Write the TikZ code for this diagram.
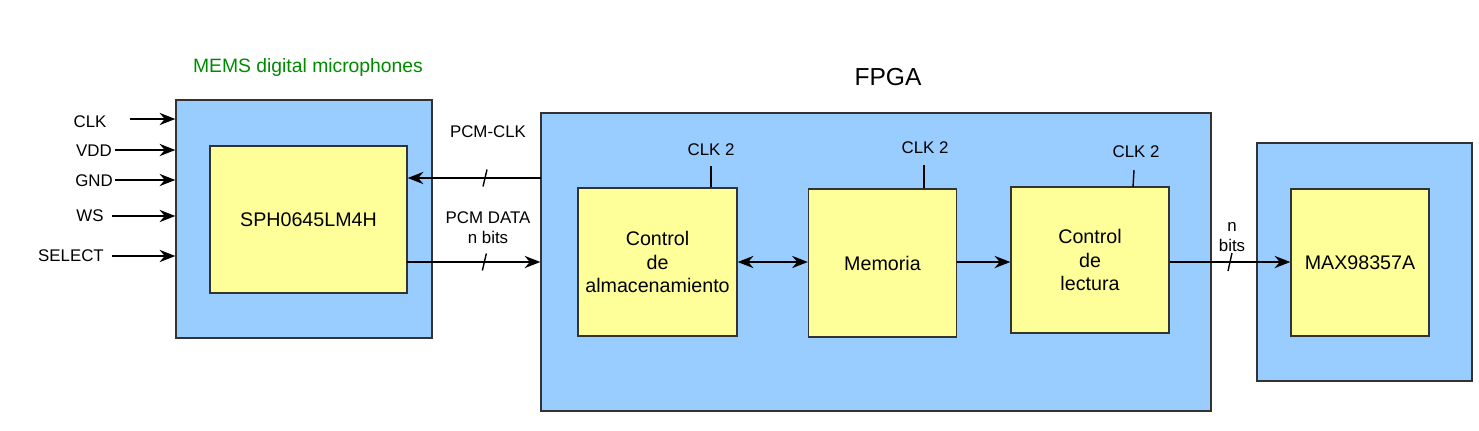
\documentclass[tikz,border=0pt]{standalone}
\usepackage{fontspec}
\setmainfont{Liberation Sans}
\usetikzlibrary{arrows.meta}

\begin{document}
\begin{tikzpicture}[x=0.02cm,y=-0.02cm,>={Stealth[length=9pt,width=7pt,inset=3pt]},
    outer/.style={draw=black!80,fill=outerblue,line width=0.8pt,inner sep=0pt},
    inner/.style={draw=black!80,fill=inneryellow,line width=0.8pt,inner sep=0pt,
        align=center,font=\fontsize{11.2}{13.5}\selectfont},
    lbl/.style={inner sep=0pt,font=\fontsize{9.6}{11.5}\selectfont,align=center},
    wire/.style={line width=0.8pt}]

                \definecolor{outerblue}{HTML}{99CCFF}
                \definecolor{inneryellow}{HTML}{FFFF99}
                \definecolor{memsgreen}{HTML}{008A00}

                \useasboundingbox (0,0) rectangle (1479,430);

                % blocks
                \node[outer,minimum width=5.12cm,minimum height=4.76cm] (mems) at (304,219) {};
                \node[inner,minimum width=3.94cm,minimum height=2.94cm] (sph) at (308.5,219.5) {SPH0645LM4H};

                \node[outer,minimum width=13.4cm,minimum height=5.96cm] (fpga) at (876,262) {};
                \node[inner,minimum width=3.18cm,minimum height=2.96cm] (alm) at (657.5,262) {Control\\de\\almacenamiento};
                \node[inner,minimum width=2.96cm,minimum height=2.96cm] (mem) at (882.5,263) {Memoria};
                \node[inner,minimum width=3.16cm,minimum height=2.92cm] (lec) at (1090,260) {Control\\de\\lectura};

                \node[outer,minimum width=4.3cm,minimum height=4.76cm] (maxo) at (1364.5,262) {};
                \node[inner,minimum width=2.76cm,minimum height=2.94cm] (maxi) at (1360,262.5) {MAX98357A};

                % titles
                \node[inner sep=0pt,text=memsgreen,font=\fontsize{11}{13}\selectfont] (memst) at (308,67) {MEMS digital microphones};
                \node[inner sep=0pt,font=\fontsize{14}{16}\selectfont] (fpgat) at (888,77) {FPGA};

                % microphone inputs
                \node[lbl] (clk) at (90,122) {CLK};
                \node[lbl] (vdd) at (94,151) {VDD};
                \node[lbl] (gnd) at (94,181) {GND};
                \node[lbl] (ws) at (90,216) {WS};
                \node[lbl] (sel) at (71,256) {SELECT};

                \coordinate (clkin) at (130,119);
                \coordinate (vddin) at (115,150);
                \coordinate (gndin) at (115,180);
                \coordinate (wsin) at (112,216);
                \coordinate (selin) at (112,256);

                \draw[wire,->] (clkin) -- (clkin -| mems.west);
                \draw[wire,->] (vddin) -- (vddin -| mems.west);
                \draw[wire,->] (gndin) -- (gndin -| mems.west);
                \draw[wire,->] (wsin) -- (wsin -| mems.west);
                \draw[wire,->] (selin) -- (selin -| mems.west);

                % PCM bus
                \node[lbl] (pcmclk) at (488,132) {PCM-CLK};
                \node[lbl] (pcmdata) at (488,228) {PCM DATA\\n bits};

                \coordinate (clkout) at (541,178);
                \coordinate (dataout) at (407,262);
                \draw[wire,->] (clkout) -- (clkout -| sph.east) coordinate[pos=0.42] (s1);
                \draw[wire,->] (dataout) -- (dataout -| fpga.west) coordinate[pos=0.58] (s2);
                \draw[wire] (s1) ++(-2,8.5) -- ++(4,-17);
                \draw[wire] (s2) ++(-2,8.5) -- ++(4,-17);

                % internal clocks
                \node[lbl] (clka) at (711,150) {CLK 2};
                \node[lbl] (clkb) at (925,148) {CLK 2};
                \node[lbl] (clkc) at (1136,152) {CLK 2};
                \coordinate (ca) at (711,166);
                \coordinate (cb) at (924,165);
                \coordinate (cc) at (1134,170);
                \draw[wire] (ca) -- (ca |- alm.north);
                \draw[wire] (cb) -- (cb |- mem.north);
                \draw[wire] (cc) -- (1133,187);

                % data path
                \draw[wire,<->] (alm.east) -- (alm.east -| mem.west);
                \draw[wire,->] (mem.east |- 0,262) -- (lec.west |- 0,262);
                \draw[wire,->] (lec.east |- 0,262) -- (maxi.west |- 0,262) coordinate[pos=0.5] (s3);
                \draw[wire] (s3) ++(-2,9) -- ++(4,-18);
                \node[lbl] (nbits) at (1232,237) {n\\bits};

            \end{tikzpicture}
\end{document}
